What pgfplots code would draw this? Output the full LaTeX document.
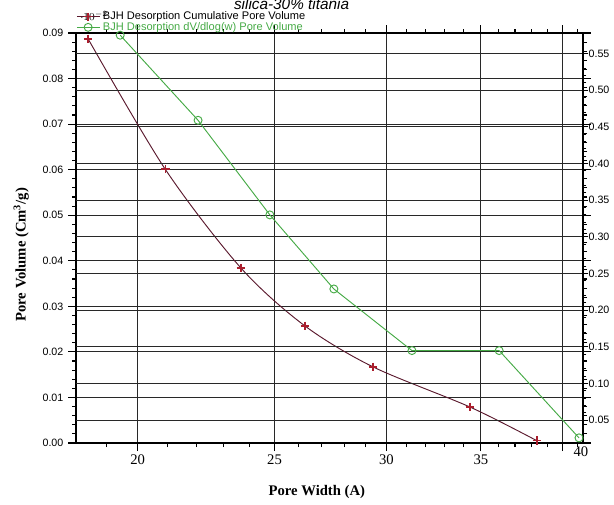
\documentclass[border=0pt]{standalone}
\usepackage{pgfplots}
\pgfplotsset{compat=1.18}
\usepackage{fontspec}
\setmainfont{Liberation Serif}
\setsansfont{Liberation Sans}
\definecolor{cumline}{RGB}{90,25,45}
\definecolor{cummark}{RGB}{170,30,45}
\definecolor{dvgreen}{RGB}{70,170,70}
\definecolor{gridc}{RGB}{40,40,40}
\begin{document}
\begin{tikzpicture}
\begin{axis}[
  scale only axis, width=380.25pt, height=307.5pt,
  at={(57pt,45.75pt)}, anchor=south west,
  xmode=log, xmin=18.09, xmax=41.34,
  /pgf/number format/assume math mode=true,
  tick style={black, line width=0.8pt},
  major tick length=6pt, minor tick length=3pt,
  tick align=outside,
  grid style={gridc, line width=0.7pt},
  axis line style={black, line width=1pt},
  minor y tick num=4,
  yticklabel style={font=\sffamily\fontsize{8}{9}\selectfont},
  xtick={20,25,30,35,40}, xticklabels={20,25,30,35,{}},
  extra x ticks={41.2}, extra x tick labels={40},
  extra x tick style={major grid style={draw=none}, major tick length=0pt},
  minor xtick={19,21,22,23,24,26,27,28,29,31,32,33,34,36,37,38,39,41},
  xmajorgrids, ymajorgrids,
  ymin=0, ymax=0.09,
  ytick={0,0.01,0.02,0.03,0.04,0.05,0.06,0.07,0.08,0.09},
  yticklabels={0.00,0.01,0.02,0.03,0.04,0.05,0.06,0.07,0.08,0.09},
  xticklabel style={font=\fontsize{11}{12}\selectfont, yshift=1pt},
  xlabel={\textbf{Pore Width (A)}},
  ylabel={\textbf{Pore Volume (Cm\textsuperscript{3}/g)}},
  xlabel style={at={(axis description cs:0.475,-0.12)}, anchor=center, font=\fontsize{11}{12}\selectfont},
  ylabel style={at={(axis description cs:-0.108,0.459)}, anchor=center, font=\fontsize{11}{12}\selectfont},
]
\addplot[cumline, line width=0.7pt, smooth, tension=0.5, mark=+,
  mark options={cummark, line width=1.1pt, solid}, mark size=3.2pt]
  coordinates {(18.45,0.0887) (20.92,0.0601) (23.67,0.0384) (26.27,0.0257)
               (29.36,0.0167) (34.38,0.0079) (38.35,0.0005)};
\end{axis}
\begin{axis}[
  scale only axis, width=380.25pt, height=307.5pt,
  at={(57pt,45.75pt)}, anchor=south west,
  xmode=log, xmin=18.09, xmax=41.34,
  /pgf/number format/assume math mode=true,
  tick style={black, line width=0.8pt},
  major tick length=4pt, minor tick length=2.5pt,
  tick align=outside,
  grid style={gridc, line width=0.7pt},
  axis line style={black, line width=1.2pt},
  minor y tick num=4,
  yticklabel style={font=\sffamily\fontsize{8}{9}\selectfont, inner sep=0.5pt, xshift=-0.5pt},
  axis x line=none, axis y line*=right,
  ymajorgrids,
  ymin=0.019, ymax=0.578,
  ytick={0.05,0.10,0.15,0.20,0.25,0.30,0.35,0.40,0.45,0.50,0.55},
  yticklabels={0.05,0.10,0.15,0.20,0.25,0.30,0.35,0.40,0.45,0.50,0.55},
  legend style={draw=none, fill=none, at={(axis description cs:0.0,1.055)}, anchor=north west,
    font=\sffamily\fontsize{8.3}{8.3}\selectfont, inner sep=0pt, row sep=-1.2pt,
    nodes={inner xsep=2.2pt, inner ysep=0.8pt}},
  legend cell align=left,
]
\addlegendimage{cumline, line width=0.7pt, mark=+, mark options={cummark, line width=1pt}, mark size=3pt}
\addlegendentry{BJH Desorption Cumulative Pore Volume}
\addplot[dvgreen, line width=0.7pt, mark=o, mark size=3pt, mark options={solid}]
  coordinates {(19.44,0.575) (22.07,0.459) (24.81,0.330) (27.54,0.229)
               (31.28,0.145) (36.06,0.145) (41.07,0.026)};
\addlegendentry{\textcolor{dvgreen}{BJH Desorption dV/dlog(w) Pore Volume}}
\end{axis}
\node[anchor=base west, font=\sffamily\itshape\fontsize{11.5}{12}\selectfont] at (172pt,371pt) {silica-30\% titania};
\pgfresetboundingbox
\useasboundingbox (0,0) rectangle (460.5pt,378pt);
\end{tikzpicture}
\end{document}
